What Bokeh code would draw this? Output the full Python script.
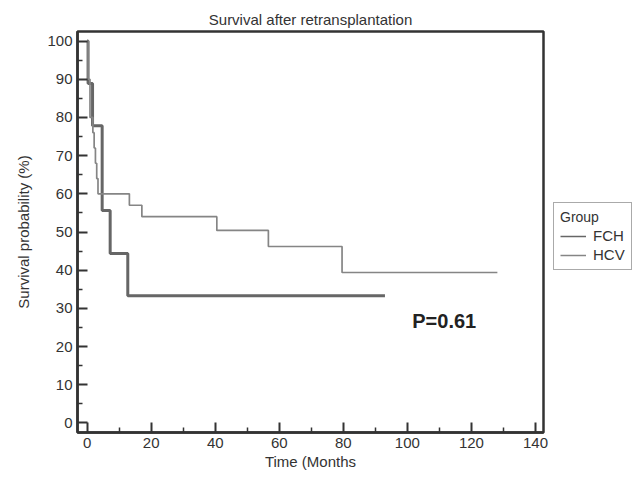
from bokeh.plotting import figure
from bokeh.layouts import row
from bokeh.models import Legend, LegendItem, Label, FixedTicker, Range1d
from bokeh.embed import file_html
from bokeh.resources import INLINE

# Kaplan-Meier estimates
fch_time = [0, 0.3, 1.7, 4.7, 7.2, 12.7, 93]
fch_surv = [100, 88.9, 77.8, 55.6, 44.4, 33.3, 33.3]

hcv_time = [0, 0.3, 0.9, 1.8, 2.2, 2.6, 3.0, 3.4, 13.2, 17.1, 40.5, 56.6, 79.6, 128.1]
hcv_surv = [100, 90, 80, 76, 72, 68, 64, 60, 57, 54, 50.4, 46.2, 39.4, 39.4]

x_ticks = [0, 20, 40, 60, 80, 100, 120, 140]
x_minor = [10, 30, 50, 70, 90, 110, 130]
y_ticks = [0, 10, 20, 30, 40, 50, 60, 70, 80, 90, 100]
y_minor = [5, 15, 25, 35, 45, 55, 65, 75, 85, 95]

groups = ["FCH", "HCV"]
p_value_text = "P=0.61"

FONT = "Liberation Sans"
TXT = "#333333"
C_FCH = "#666666"
C_HCV = "#858585"

p = figure(width=553, height=472,
           x_range=Range1d(-3, 142.5), y_range=Range1d(-2.5, 102.5),
           output_backend="svg", toolbar_location=None,
           title="Survival after retransplantation",
           min_border_left=77, min_border_right=10,
           min_border_top=31, min_border_bottom=39)

p.title.align = "center"
p.title.text_font = FONT
p.title.text_font_size = "15px"
p.title.text_font_style = "normal"
p.title.text_color = TXT
p.title.standoff = 8
p.title.offset = 0

p.grid.visible = False
p.outline_line_color = "#333333"
p.outline_line_width = 2.5

for ax, ticks, minor, label in ((p.xaxis, x_ticks, x_minor, "Time (Months"),
                                (p.yaxis, y_ticks, y_minor, "Survival probability (%)")):
    ax.ticker = FixedTicker(ticks=ticks, minor_ticks=minor)
    ax.axis_label = label
    ax.axis_label_text_font = FONT
    ax.axis_label_text_font_size = "15px"
    ax.axis_label_text_font_style = "normal"
    ax.axis_label_text_color = TXT
    ax.major_label_text_font = FONT
    ax.major_label_text_font_size = "15px"
    ax.major_label_text_color = TXT
    ax.axis_line_color = "#333333"
    ax.axis_line_width = 2.5
    ax.major_tick_in = 10
    ax.major_tick_out = 0
    ax.minor_tick_in = 5
    ax.minor_tick_out = 0
    ax.major_tick_line_color = "#333333"
    ax.major_tick_line_width = 2
    ax.minor_tick_line_color = "#333333"
    ax.minor_tick_line_width = 1.5

p.xaxis.major_label_standoff = 5
p.xaxis.axis_label_standoff = 2
p.yaxis.major_label_standoff = 5
p.yaxis.axis_label_standoff = 12

p.step(fch_time, fch_surv, mode="after", line_color=C_FCH, line_width=3)
p.step(hcv_time, hcv_surv, mode="after", line_color=C_HCV, line_width=1.7)

p.add_layout(Label(x=111.5, y=26.6, text=p_value_text, text_align="center",
                   text_baseline="middle", text_font=FONT, text_font_size="20px",
                   text_font_style="bold", text_color="#222222"))

# separate panel holding the legend (outside the plot frame, as in the reference)
lg = figure(width=80, height=472, x_range=Range1d(1000, 1001), y_range=Range1d(1000, 1001),
            output_backend="svg", toolbar_location=None,
            x_axis_location=None, y_axis_location=None,
            min_border=0, outline_line_color=None)
lg.grid.visible = False
l_fch = lg.step(fch_time, fch_surv, mode="after", line_color=C_FCH, line_width=1.5)
l_hcv = lg.step(hcv_time, hcv_surv, mode="after", line_color=C_HCV, line_width=1.5)

legend = Legend(items=[LegendItem(label=groups[0], renderers=[l_fch]),
                       LegendItem(label=groups[1], renderers=[l_hcv])],
                location=(0, 162), title="Group",
                title_text_font=FONT, title_text_font_size="14px",
                title_text_font_style="normal", title_text_color=TXT,
                label_text_font=FONT, label_text_font_size="15px", label_text_color=TXT,
                glyph_width=26, glyph_height=16, label_standoff=7,
                padding=6, spacing=2, margin=0, title_standoff=2,
                border_line_color="#555555", border_line_width=1.5,
                background_fill_alpha=1)
lg.add_layout(legend, "center")

open("out.html", "w").write(file_html(row(p, lg), INLINE))
